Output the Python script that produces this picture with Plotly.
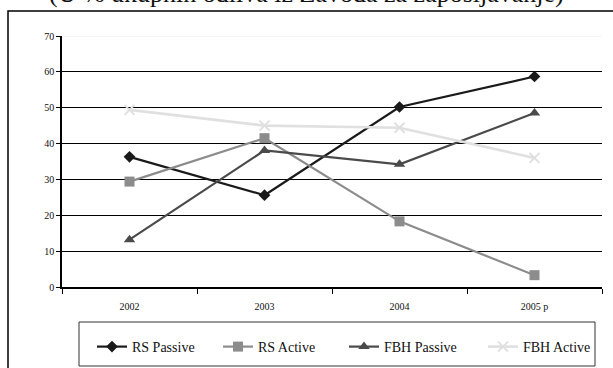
import plotly.graph_objects as go

# Outflows from the employment bureau, share in %
years = ["2002", "2003", "2004", "2005 p"]
rs_passive = [36.3, 25.6, 50.2, 58.7]
rs_active = [29.4, 41.5, 18.3, 3.3]
fbh_passive = [13.2, 38.1, 34.2, 48.5]
fbh_active = [49.4, 45.0, 44.4, 36.0]
y_ticks = [0, 10, 20, 30, 40, 50, 60, 70]

W, H = 613, 368
ML, MR, MT, MB = 62, 11, 36, 81
PW, PH = W - ML - MR, H - MT - MB


def px_x(p):
    return (p - ML) / PW


def px_y(p):
    return (H - MB - p) / PH


serif = '"Liberation Serif", "Times New Roman", serif'

# name, values, colour, marker, marker size, line width, legend left edge (px)
series = [
    ("RS Passive", rs_passive, "#1a1a1a", "diamond", 9, 2.2, 92),
    ("RS Active", rs_active, "#8c8c8c", "square", 10, 2.2, 218),
    ("FBH Passive", fbh_passive, "#4a4a4a", "triangle-up", 10, 2.2, 344),
    ("FBH Active", fbh_active, "#e0e0e0", "x-thin", 10, 2.6, 483),
]

fig = go.Figure()
legend_layouts = {}
for i, (name, vals, color, sym, size, lw, lx) in enumerate(series):
    marker = dict(symbol=sym, size=size, color=color)
    if sym == "x-thin":
        marker["line"] = dict(color=color, width=2)
    key = "legend" if i == 0 else f"legend{i + 1}"
    fig.add_trace(go.Scatter(
        x=years, y=vals, name=name, mode="lines+markers",
        line=dict(color=color, width=lw), marker=marker, legend=key,
    ))
    legend_layouts[key] = dict(
        orientation="h", xref="container", yref="container",
        x=lx / W, xanchor="left", y=1 - 331 / H, yanchor="top",
        font=dict(size=14, family=serif, color="#111"),
        bgcolor="rgba(0,0,0,0)", borderwidth=0,
    )

fig.update_layout(
    width=W, height=H,
    margin=dict(l=ML, r=MR, t=MT, b=MB, autoexpand=False),
    paper_bgcolor="white", plot_bgcolor="white",
    font=dict(family=serif, color="#111"),
    showlegend=True,
    xaxis=dict(
        type="category", tickson="boundaries", ticks="outside", ticklen=5,
        tickcolor="black", showline=True, linecolor="black", linewidth=1.5,
        showgrid=False, tickfont=dict(size=10, family=serif),
        ticklabelstandoff=9, range=[-0.5, 3.5],
    ),
    yaxis=dict(
        range=[0, 70], tickvals=y_ticks, ticks="outside", ticklen=4,
        tickcolor="black", showline=True, linecolor="black", linewidth=1.5,
        showgrid=True, gridcolor="black", gridwidth=1, zeroline=False,
        tickfont=dict(size=10, family=serif),
    ),
    annotations=[dict(
        text="(U % ukupnih odliva iz Zavoda za zapošljavanje)",
        xref="paper", yref="paper", x=px_x(306), y=px_y(10),
        xanchor="center", yanchor="bottom", showarrow=False,
        font=dict(size=26, family=serif, color="#111"),
    )],
    shapes=[
        # faint top gridline
        dict(type="line", xref="paper", yref="y", x0=0, x1=1, y0=70, y1=70,
             line=dict(color="#eeeeee", width=1.2), layer="above"),
        # outer chart frame
        dict(type="rect", xref="paper", yref="paper",
             x0=px_x(8), x1=px_x(640), y0=px_y(400), y1=px_y(11),
             line=dict(color="black", width=1.5)),
        # legend frame
        dict(type="rect", xref="paper", yref="paper",
             x0=px_x(79), x1=px_x(595), y0=px_y(366), y1=px_y(322),
             line=dict(color="#333", width=1)),
    ],
    **legend_layouts,
)

fig.write_html("out.html")
